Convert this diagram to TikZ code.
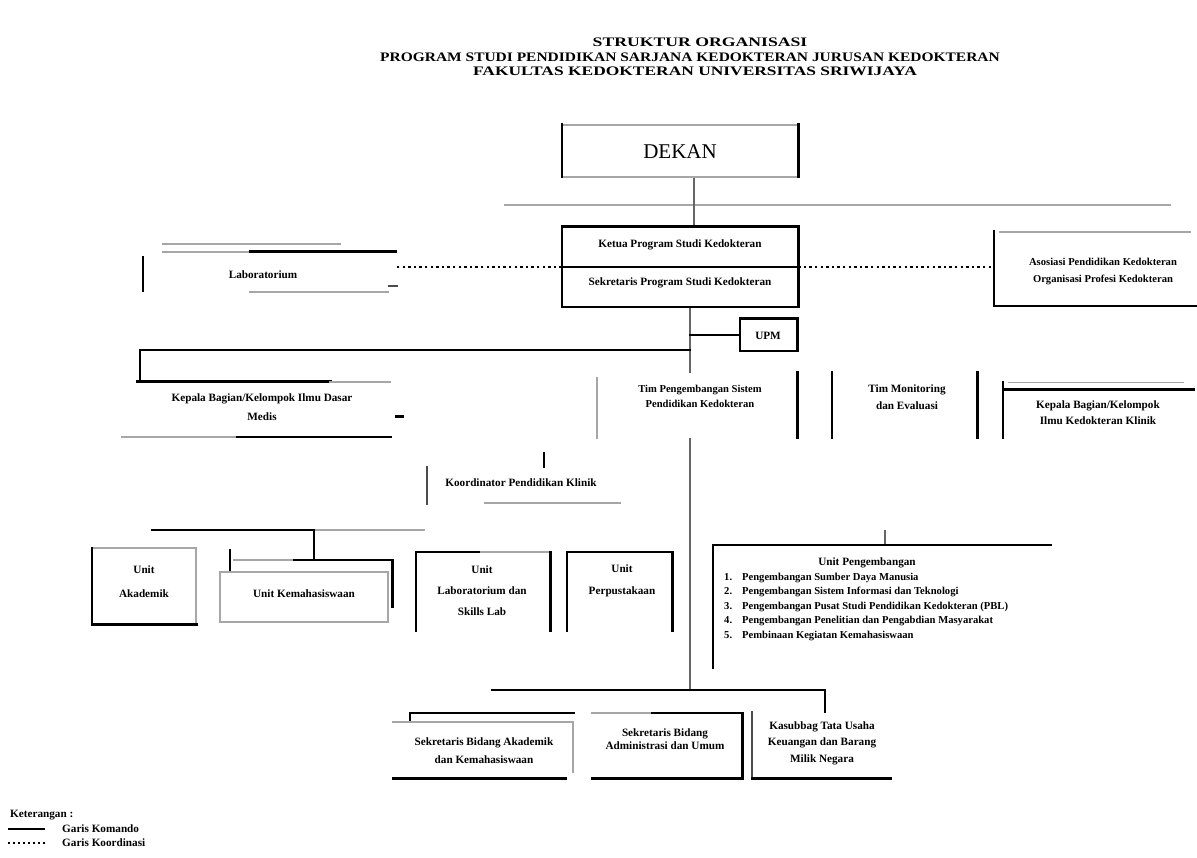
\documentclass[tikz,border=0pt]{standalone}
\usepackage{fontspec}
\setmainfont{Liberation Serif}
\begin{document}
\begin{tikzpicture}[x=1pt,y=-1pt,
  edge/.style={line width=2.6pt,black,line cap=rect},
  faint/.style={line width=2.4pt,black!35,line cap=rect},
  link/.style={line width=1.8pt,black!60},
  coordline/.style={line width=2.2pt,black,dash pattern=on 2.4pt off 3.2pt},
  slot/.style={draw=none,fill=white,inner sep=0pt},
  lbl/.style={font=\fontsize{11.2}{13}\selectfont\bfseries,align=center,inner sep=0pt},
  ttl/.style={font=\fontsize{13}{15}\selectfont\bfseries,inner sep=0pt},
]
\useasboundingbox[fill=white] (0,0) rectangle (1197,858);

% ---------- title ----------
\node[ttl] (t1) at (700,42) {\scalebox{1.36}[1]{STRUKTUR ORGANISASI}};
\node[ttl] (t2) at (690,57) {\scalebox{1.19}[1]{PROGRAM STUDI PENDIDIKAN SARJANA KEDOKTERAN JURUSAN KEDOKTERAN}};
\node[ttl] (t3) at (695,71) {\scalebox{1.34}[1]{FAKULTAS KEDOKTERAN UNIVERSITAS SRIWIJAYA}};

% ---------- junction points of the trunk ----------
\coordinate (j1) at (694,205);
\coordinate (j2) at (690,690);
\coordinate (j3) at (690,350);
\coordinate (j3l) at (140,350);
\coordinate (h1l) at (505,205);
\coordinate (h1r) at (1170,205);

% ---------- box slots ----------
\node[slot,minimum width=236pt,minimum height=52pt] (dekan) at (680,151) {};
\node[slot,minimum width=236pt,minimum height=80pt] (ketua) at (680,267) {};
\node[slot,minimum width=252pt,minimum height=40pt] (lab) at (269,272) {};
\node[slot,minimum width=203pt,minimum height=74pt] (asos) at (1095.5,269) {};
\node[slot,minimum width=57pt,minimum height=32pt] (upm) at (768.5,335) {};
\node[slot,minimum width=253pt,minimum height=55pt] (kk) at (263.5,409.5) {};
\node[slot,minimum width=200pt,minimum height=65pt] (tim) at (697,405.5) {};
\node[slot,minimum width=145pt,minimum height=65pt] (komisi) at (904.5,405.5) {};
\node[slot,minimum width=190pt,minimum height=55pt] (klinik) at (1098,410.5) {};
\node[slot,minimum width=193pt,minimum height=36pt] (koord) at (523.5,485) {};
\node[slot,minimum width=104pt,minimum height=76pt] (unitA) at (144,586) {};
\node[slot,minimum width=168pt,minimum height=50pt] (unitBb) at (304,597) {};
\node[slot,minimum width=158pt,minimum height=46pt,fill=none] (unitB) at (313,583) {};
\node[slot,minimum width=134pt,minimum height=78pt] (unitC) at (483,591) {};
\node[slot,minimum width=105pt,minimum height=78pt] (unitD) at (619.5,591) {};
\node[slot,minimum width=337pt,minimum height=122pt] (unitE) at (881.5,606) {};
\node[slot,minimum width=180pt,minimum height=65pt] (sekA) at (483,745.5) {};
\node[slot,minimum width=150pt,minimum height=65pt] (sekB) at (667,745.5) {};
\node[slot,minimum width=138pt,minimum height=66pt] (kasub) at (821,745) {};

% ---------- command lines ----------
\draw[faint,line width=1.8pt] (h1l) -- (h1r);
\draw[link] (dekan.south -| j1) -- (j1) -- (ketua.north -| j1);
\draw[link] (ketua.south -| j3) -- (tim.north -| j3);
\draw[link] (tim.south -| j3) -- (j2);
\draw[edge] (j3) -- (j3l) -- (j3l |- kk.north);
\draw[edge] (upm.west -| j3) -- (upm.west);
\coordinate (j4l) at (152,530);
\coordinate (j4r) at (424,530);
\coordinate (j4) at (314,530);
\draw[edge] (j4l) -- (j4);
\draw[faint] (j4) -- (j4r);
\draw[edge] (j4) -- (j4 |- unitB.north);
\coordinate (j4b) at (230,550);
\draw[edge] (j4b) -- (j4b |- unitBb.north);
\coordinate (j5) at (544,453);
\draw[edge] (j5) -- (j5 |- koord.north);
\coordinate (j6) at (885,530);
\draw[link] (j6) -- (j6 |- unitE.north);
\coordinate (j7l) at (492,690);
\coordinate (j7r) at (825,690);
\draw[edge] (j7l) -- (j7r) -- (j7r |- kasub.north);

% ---------- coordination lines ----------
\draw[coordline] (ketua.west) -- (ketua.west -| lab.east);
\draw[coordline] (ketua.east) -- (ketua.east -| asos.west);

% ---------- box outlines ----------
% Dekan
\draw[faint] (dekan.north west) -- (dekan.north east);
\draw[faint] (dekan.south west) -- (dekan.south east);
\draw[edge] (dekan.north west) -- (dekan.south west);
\draw[edge] (dekan.north east) -- (dekan.south east);
% Ketua / Sekretaris
\draw[edge] (ketua.north west) rectangle (ketua.south east);
\draw[edge] (ketua.west) -- (ketua.east);
% Laboratorium
\draw[faint,line width=1.8pt] ([xshift=20pt,yshift=8pt]lab.north west) -- ([xshift=-55pt,yshift=8pt]lab.north east);
\draw[faint] ([xshift=20pt]lab.north west) -- ([xshift=107pt]lab.north west);
\draw[edge] ([xshift=107pt]lab.north west) -- (lab.north east);
\draw[edge] ([yshift=-6pt]lab.north west) -- ([yshift=1pt]lab.south west);
\draw[faint,line width=1.8pt] ([xshift=107pt]lab.south west) -- ([xshift=-7pt]lab.south east);
\draw[edge,black!70] ([xshift=-6pt,yshift=6pt]lab.south east) -- ([xshift=1pt,yshift=6pt]lab.south east);
% Asosiasi
\draw[faint,line width=1.6pt] ([xshift=6pt]asos.north west) -- ([xshift=-7pt]asos.north east);
\draw[edge] (asos.north west) -- (asos.south west) -- (asos.south east);
% UPM
\draw[edge] (upm.north west) rectangle (upm.south east);
% Kelompok ilmu dasar
\draw[edge] (kk.north west) -- ([xshift=-60pt]kk.north east);
\draw[faint] ([xshift=-60pt]kk.north east) -- (kk.north east);
\draw[faint] ([xshift=-15pt]kk.south west) -- ([xshift=100pt]kk.south west);
\draw[edge] ([xshift=100pt]kk.south west) -- (kk.south east);
\draw[edge] ([xshift=6pt,yshift=-7pt]kk.east) -- ([xshift=12pt,yshift=-7pt]kk.east);
% Tim
\draw[faint,line width=1.6pt] ([yshift=-5pt]tim.north west) -- (tim.south west);
\draw[edge] (tim.north east) -- (tim.south east);
% Komisi
\draw[edge] (komisi.north west) -- (komisi.south west);
\draw[edge] (komisi.north east) -- (komisi.south east);
% Kelompok ilmu klinik
\draw[faint,line width=1.4pt] ([xshift=6pt]klinik.north west) -- ([xshift=-10pt]klinik.north east);
\draw[edge] ([yshift=-7pt]klinik.north west) -- ([yshift=-7pt]klinik.north east);
\draw[edge] (klinik.north west) -- (klinik.south west);
% Koordinator
\draw[edge,black!70] (koord.north west) -- (koord.south west);
\draw[faint,line width=1.6pt] ([xshift=58pt]koord.south west) -- (koord.south east);
% Unit A
\draw[faint,line width=1.8pt] (unitA.north west) -- (unitA.north east) -- (unitA.south east);
\draw[edge] (unitA.north west) -- (unitA.south west) -- (unitA.south east);
% Unit B (two offset frames)
\draw[faint,line width=1.8pt] (unitBb.north west) rectangle (unitBb.south east);
\draw[faint] (unitB.north west) -- ([xshift=60pt]unitB.north west);
\draw[edge] ([xshift=60pt]unitB.north west) -- (unitB.north east) -- (unitB.south east);
% Unit C
\draw[edge] (unitC.south west) -- (unitC.north west) -- ([xshift=65pt]unitC.north west);
\draw[faint] ([xshift=65pt]unitC.north west) -- (unitC.north east);
\draw[edge] (unitC.north east) -- (unitC.south east);
% Unit D
\draw[edge] (unitD.south west) -- (unitD.north west) -- (unitD.north east) -- (unitD.south east);
% Unit E
\draw[edge] (unitE.south west) -- (unitE.north west) -- (unitE.north east);
% Sekretaris A
\draw[edge] ([xshift=17pt]sekA.north west) -- (sekA.north east);
\draw[edge] ([xshift=17pt]sekA.north west) -- ([xshift=17pt,yshift=-9pt]sekA.north west);
\draw[faint,line width=1.8pt] ([yshift=-9pt]sekA.north west) -- ([yshift=-9pt]sekA.north east);
\draw[faint] ([yshift=-9pt]sekA.north east) -- ([yshift=6pt]sekA.south east);
\draw[edge] (sekA.south west) -- ([xshift=-8pt]sekA.south east);
% Sekretaris B
\draw[faint] (sekB.north west) -- ([xshift=60pt]sekB.north west);
\draw[edge] ([xshift=60pt]sekB.north west) -- (sekB.north east) -- (sekB.south east) -- (sekB.south west);
% Kasubbag
\draw[edge,black!70] (kasub.north west) -- (kasub.south west);
\draw[edge] (kasub.south west) -- (kasub.south east);

% ---------- labels ----------
\node[font=\fontsize{21}{24}\selectfont,inner sep=0pt] (tdekan) at (680,152) {DEKAN};
\node[lbl] (tketua) at (680,245) {Ketua Program Studi Kedokteran};
\node[lbl] (tsekr) at (680,283) {Sekretaris Program Studi Kedokteran};
\node[lbl] (tlab) at (263,275) {Laboratorium};
\node[lbl,font=\fontsize{10.6}{17}\selectfont\bfseries] (tasos) at (1103,271) {Asosiasi Pendidikan Kedokteran\\Organisasi Profesi Kedokteran};
\node[lbl] (tupm) at (768,336) {UPM};
\node[lbl,font=\fontsize{11.2}{19}\selectfont\bfseries] (tkk) at (262,407) {Kepala Bagian/Kelompok Ilmu Dasar\\Medis};
\node[lbl,fill=white,inner sep=1pt,font=\fontsize{10.6}{15}\selectfont\bfseries] (ttim) at (700,396) {Tim Pengembangan Sistem\\Pendidikan Kedokteran};
\node[lbl,font=\fontsize{11.2}{17}\selectfont\bfseries] (tkom) at (907,397) {Tim Monitoring\\dan Evaluasi};
\node[lbl,font=\fontsize{11.2}{16}\selectfont\bfseries] (tkli) at (1098,413) {Kepala Bagian/Kelompok\\Ilmu Kedokteran Klinik};
\node[lbl] (tkoord) at (521,483) {Koordinator Pendidikan Klinik};
\node[lbl,font=\fontsize{11.2}{24}\selectfont\bfseries] (tuA) at (144,582) {Unit\\Akademik};
\node[lbl] (tuB) at (304,594) {Unit Kemahasiswaan};
\node[lbl,font=\fontsize{11.2}{21}\selectfont\bfseries] (tuC) at (482,591) {Unit\\Laboratorium dan\\Skills Lab};
\node[lbl,font=\fontsize{11.2}{22}\selectfont\bfseries] (tuD) at (622,581) {Unit\\Perpustakaan};
\node[lbl] (tuE) at (867,563) {Unit Pengembangan};
\node[lbl,align=left,anchor=north west,font=\fontsize{10.6}{14.4}\selectfont\bfseries] (tlist) at (724,573) {%
1.\hspace{10pt}Pengembangan Sumber Daya Manusia\\
2.\hspace{10pt}Pengembangan Sistem Informasi dan Teknologi\\
3.\hspace{10pt}Pengembangan Pusat Studi Pendidikan Kedokteran (PBL)\\
4.\hspace{10pt}Pengembangan Penelitian dan Pengabdian Masyarakat\\
5.\hspace{10pt}Pembinaan Kegiatan Kemahasiswaan};
\node[lbl,font=\fontsize{11.2}{18}\selectfont\bfseries] (tsA) at (484,751) {Sekretaris Bidang Akademik\\dan Kemahasiswaan};
\node[lbl,font=\fontsize{11.2}{13}\selectfont\bfseries] (tsB) at (665,739) {Sekretaris Bidang\\Administrasi dan Umum};
\node[lbl,font=\fontsize{11.2}{16.5}\selectfont\bfseries] (tks) at (822,743) {Kasubbag Tata Usaha\\Keuangan dan Barang\\Milik Negara};

% ---------- legend ----------
\node[lbl,anchor=west] (leg) at (10,815) {Keterangan :};
\coordinate (ls1) at (8,829);
\coordinate (ls2) at (45,829);
\coordinate (ld1) at (8,843);
\coordinate (ld2) at (45,843);
\draw[line width=1.6pt] (ls1) -- (ls2);
\draw[line width=1.6pt,dash pattern=on 2pt off 3pt] (ld1) -- (ld2);
\node[lbl,anchor=west] (legA) at (62,829) {Garis Komando};
\node[lbl,anchor=west] (legB) at (62,843) {Garis Koordinasi};
\end{tikzpicture}
\end{document}
